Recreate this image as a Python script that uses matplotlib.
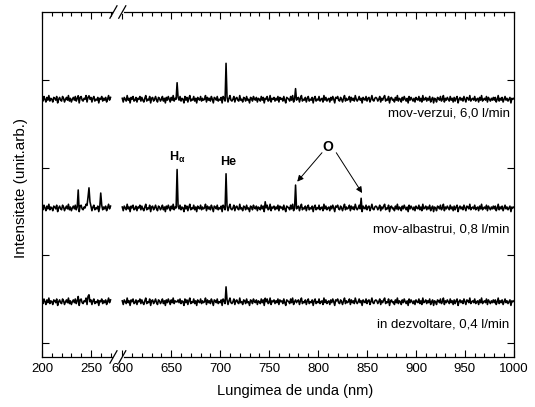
import numpy as np
import matplotlib
matplotlib.use('Agg')
import matplotlib.pyplot as plt
from matplotlib.transforms import blended_transform_factory

plt.rcParams['font.family'] = ['Liberation Sans', 'DejaVu Sans']
plt.rcParams['mathtext.fontset'] = 'custom'
plt.rcParams['mathtext.rm'] = 'Liberation Sans'
plt.rcParams['mathtext.bf'] = 'Liberation Sans:bold'

# ---------------- data ----------------
left_wl = np.arange(200, 271, 1)     # 200..270 nm
right_wl = np.arange(600, 1001, 1)   # 600..1000 nm

left_noise = [1, -2, 3, 0, -3, 2, -1, 4, -2, 1, 0, -3, 2, 1, -1, 3, -4, 0, 2, -1,
              -2, 3, 1, -3, 0, 2, -1, 4, -2, 1, -3, 0, 2, -1, 3, -2, 1, 0, -4, 2,
              3, -1, -2, 1, 0, 4, -3, 2, -1, 0, 2, -3, 1, 3, -2, 0, -1, 2, -4, 1,
              0, 3, -2, 1, -1, 2, -3, 0, 4, -1, 2]
right_noise = [1, -3, 2, 0, -2, 4, -1, 1, -4, 2, 0, 3, -2, -1, 2, -3, 1, 0, 3, -2,
               2, -1, -3, 1, 4, -2, 0, -1, 3, -4, 1, 2, -2, 0, 3, -1, -3, 2, 1, -2,
               0, 3, -2, 1, -4, 2, -1, 3, 0, -3, 2, -1, 4, -2, 1, 0, -3, 2, -1, 3,
               -2, 1, 0, -4, 3, -1, 2, -3, 1, 4, -2, 0, -1, 3, -2, 1, -4, 2, 0, -1,
               3, -2, 1, -1, 0, 4, -3, 2, -1, 1, -2, 3, 0, -4, 2, 1, -1, 3, -2, 0,
               -1, 2, -4, 3, 1, -2, 0, 2, -3, 1, 4, -1, -2, 0, 3, -3, 1, 2, -1, -2,
               4, -1, 0, -3, 2, 1, -2, 3, -1, 0, -4, 2, 1, -2, 3, 0, -1, 2, -3, 1,
               0, -2, 3, -1, 2, -4, 1, 0, 3, -2, -1, 4, -3, 1, 0, 2, -2, 1, -1, 3,
               -3, 2, 0, 1, -2, 3, -1, -4, 2, 1, 0, -2, 3, -1, 4, -3, 0, 2, -1, 1,
               2, -3, 1, 4, -2, 0, -1, 2, -3, 1, 3, -2, 0, -1, 2, -4, 1, 3, -2, 0,
               -1, 3, -2, 0, 1, -3, 4, -1, 2, -2, 0, 1, -3, 2, -1, 3, 0, -4, 2, 1,
               3, -1, -2, 2, 0, -3, 1, 4, -2, 1, -1, 0, 3, -3, 2, -1, 1, -2, 4, 0,
               -2, 0, 3, -1, 1, -4, 2, 0, -1, 3, -2, 1, 2, -3, 0, 4, -1, -2, 1, 2,
               1, -2, 0, 3, -3, 1, -1, 2, 4, -2, 0, -1, 3, -4, 1, 2, -1, 0, -3, 2,
               -1, 4, -2, 1, 0, -3, 2, -1, 3, 0, -2, 1, -4, 3, -1, 2, 0, -2, 1, -3,
               2, 0, -1, 3, -2, 1, -3, 4, -1, 0, 2, -2, 1, -1, 3, -3, 0, 2, -4, 1,
               0, -3, 2, 1, -1, 3, -2, 0, 4, -3, 1, -1, 2, 0, -2, 3, -1, 1, -3, 2,
               -2, 1, 3, -4, 0, 2, -1, 1, -2, 3, 0, -3, 2, 1, -1, 4, -2, 0, 1, -1,
               3, -2, 0, 1, -3, 2, -1, 4, -2, 0, 1, -1, 3, -3, 2, 0, -2, 1, -1, 2,
               -1, 2, -3, 0, 4, -2, 1, -1, 2, -3, 0, 3, -1, 1, -2, 0, 2, -4, 1, 0,
               1]
noise_scale = 0.0105

labels = ['mov-verzui, 6,0 l/min', 'mov-albastrui, 0,8 l/min', 'in dezvoltare, 0,4 l/min']
baselines = [2.78, 1.54, 0.47]
label_y = [2.62, 1.29, 0.205]

top_peak_wl = [237, 248, 656, 706, 777]
top_peak_h = [0.04, 0.05, 0.22, 0.41, 0.10]
mid_peak_wl = [237, 246, 247, 248, 249, 260, 656, 706, 746, 777, 844]
mid_peak_h = [0.205, 0.06, 0.10, 0.24, 0.07, 0.17, 0.47, 0.39, 0.06, 0.24, 0.10]
bot_peak_wl = [237, 247, 248, 656, 706, 746]
bot_peak_h = [0.06, 0.04, 0.09, 0.03, 0.17, 0.03]
peaks_wl = [top_peak_wl, mid_peak_wl, bot_peak_wl]
peaks_h = [top_peak_h, mid_peak_h, bot_peak_h]

left_ticks = [200, 250]
right_ticks = [600, 650, 700, 750, 800, 850, 900, 950, 1000]

# broken-axis mapping
BREAK_U = 282.0
def to_u(wl):
    wl = np.asarray(wl, dtype=float)
    return np.where(wl >= 600, wl - 600 + BREAK_U, wl)

# ---------------- figure ----------------
fig = plt.figure(figsize=(5.35, 4.07), dpi=100)
ax = fig.add_axes([0.0785, 0.1229, 0.882, 0.8476])

for i in range(3):
    yl = baselines[i] + noise_scale * np.array(left_noise, dtype=float)
    yr = baselines[i] + noise_scale * np.array(right_noise, dtype=float)
    for pw, ph in zip(peaks_wl[i], peaks_h[i]):
        if pw < 600:
            yl[np.argmin(np.abs(left_wl - pw))] += ph
        else:
            yr[np.argmin(np.abs(right_wl - pw))] += ph
    ax.plot(to_u(left_wl), yl, color='black', lw=1.15)
    ax.plot(to_u(right_wl), yr, color='black', lw=1.15)
    ax.text(0.991, label_y[i], labels[i], transform=blended_transform_factory(ax.transAxes, ax.transData),
            ha='right', va='center', fontsize=9.5)

ax.set_xlim(200, to_u(1000))
ax.set_ylim(-0.16, 3.775)

major = list(left_ticks) + list(right_ticks)
ax.set_xticks(to_u(major))
ax.set_xticklabels([str(t) for t in major], fontsize=9.5)
minor = [w for w in range(210, 271, 10) if w % 50 != 0] + [w for w in range(610, 1000, 10) if w % 50 != 0]
ax.set_xticks(to_u(minor), minor=True)
ax.set_yticks([0, 1, 2, 3])
ax.set_yticklabels([])
ax.tick_params(axis='both', which='major', direction='in', top=True, right=True, length=5, width=0.8, pad=4)
ax.tick_params(axis='x', which='minor', direction='in', top=True, length=3, width=0.8)
for s in ax.spines.values():
    s.set_linewidth(0.9)

# annotations
ax.text(to_u(656), 2.12, r'$\mathbf{H_{\alpha}}$', ha='center', va='center', fontsize=9)
ax.text(to_u(708), 2.06, 'He', ha='center', va='center', fontsize=9, fontweight='bold')
ax.text(to_u(810), 2.23, 'O', ha='center', va='center', fontsize=10, fontweight='bold')
ax.annotate('', xy=(to_u(778.7), 1.84), xytext=(to_u(804), 2.17),
            arrowprops=dict(arrowstyle='-|>', color='black', lw=0.7, mutation_scale=9, shrinkA=0, shrinkB=0))
ax.annotate('', xy=(to_u(845), 1.71), xytext=(to_u(818.6), 2.17),
            arrowprops=dict(arrowstyle='-|>', color='black', lw=0.7, mutation_scale=9, shrinkA=0, shrinkB=0))

# break marks
bt = blended_transform_factory(ax.transData, ax.transAxes)
ub1, ub2 = 273.0, BREAK_U
for yy in (0.0, 1.0):
    ax.plot([ub1 + 0.4, ub2 - 0.4], [yy, yy], color='white', lw=2.0, transform=bt, clip_on=False, zorder=5)
    for ub in (ub1, ub2):
        ax.plot([ub - 3.6, ub + 3.6], [yy - 0.018, yy + 0.018], color='black', lw=0.9,
                transform=bt, clip_on=False, zorder=6)

ax.set_xlabel('Lungimea de unda (nm)', fontsize=10.5)
ax.set_ylabel('Intensitate (unit.arb.)', fontsize=11)
ax.xaxis.set_label_coords(0.536, -0.077)
ax.yaxis.set_label_coords(-0.030, 0.49)

fig.savefig('out.png', dpi=100)
